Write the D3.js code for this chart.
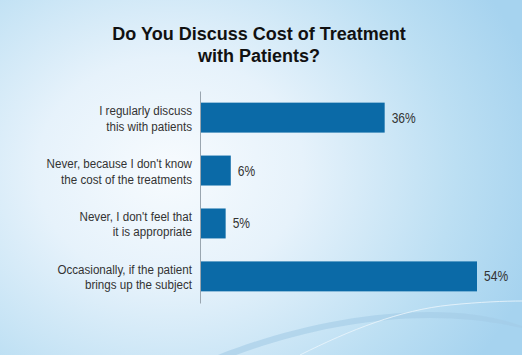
<!DOCTYPE html>
<html>
<head>
<meta charset="utf-8">
<script src="https://cdn.jsdelivr.net/npm/d3@7"></script>
<style>
  html, body { margin: 0; padding: 0; background: #fff; }
  svg { display: block; }
</style>
</head>
<body>
<div id="chart"></div>
<script>
const titleLines = ["Do You Discuss Cost of Treatment", "with Patients?"];
const categories = [
  ["I regularly discuss", "this with patients"],
  ["Never, because I don't know", "the cost of the treatments"],
  ["Never, I don't feel that", "it is appropriate"],
  ["Occasionally, if the patient", "brings up the subject"]
];
const values = [36, 6, 5, 54];
const valueLabels = ["36%", "6%", "5%", "54%"];

const W = 522, H = 355;
const svg = d3.select("#chart").append("svg").attr("width", W).attr("height", H);

const defs = svg.append("defs");
const rg = defs.append("radialGradient").attr("id", "bg")
  .attr("gradientUnits", "userSpaceOnUse")
  .attr("cx", 170).attr("cy", 170).attr("r", 380)
  .attr("gradientTransform", "translate(170,170) scale(1,0.85) translate(-170,-170)");
rg.append("stop").attr("offset", "0").attr("stop-color", "#f7fbfe");
rg.append("stop").attr("offset", "0.35").attr("stop-color", "#e6f2fb");
rg.append("stop").attr("offset", "0.75").attr("stop-color", "#bcdff3");
rg.append("stop").attr("offset", "1").attr("stop-color", "#a6d3ef");

svg.append("rect").attr("width", W).attr("height", H).attr("fill", "url(#bg)");

// decorative swooshes
svg.append("path")
  .attr("d", "M218,355 C280,330 360,312 430,312 C470,312 500,318 522,326 L522,328 C495,322 465,318 430,318 C360,318 290,335 236,355 Z")
  .attr("fill", "#a4cbe6").attr("opacity", 0.6);
svg.append("path")
  .attr("d", "M300,355 C350,330 400,310 450,305 C480,302 505,301 522,301")
  .attr("fill", "none").attr("stroke", "#eaf4fb").attr("stroke-width", 1).attr("opacity", 0.85);

// title
const title = svg.append("text")
  .attr("text-anchor", "middle")
  .attr("font-family", "Liberation Sans, Arial, sans-serif")
  .attr("font-weight", "bold").attr("font-size", 18).attr("fill", "#111");
titleLines.forEach((t, i) => {
  title.append("tspan").attr("x", 259).attr("y", 40 + i * 22).text(t);
});

const x0 = 200;
const x = d3.scaleLinear().domain([0, 54]).range([x0, 477]);
const y = d3.scaleBand().domain(d3.range(categories.length)).range([91, 303]).paddingInner(0.434).paddingOuter(0.22);

// bars
svg.append("g").selectAll("rect").data(values).join("rect")
  .attr("x", x(0))
  .attr("y", (d, i) => y(i))
  .attr("width", d => x(d) - x(0))
  .attr("height", y.bandwidth())
  .attr("fill", "#0b6aa7");

// axis
const axis = d3.axisLeft(y).tickSize(0).tickFormat("");
const ag = svg.append("g").attr("transform", `translate(${x0},0)`).call(axis);
ag.select(".domain").attr("stroke", "#9aa6b0").attr("stroke-width", 1);

// category labels (slightly condensed)
const sx = 0.86;
const lab = svg.append("g")
  .attr("transform", `scale(${sx},1)`)
  .attr("font-family", "Liberation Sans, Arial, sans-serif")
  .attr("font-size", 13.5).attr("fill", "#333").attr("text-anchor", "end");
categories.forEach((lines, i) => {
  const cy = y(i) + y.bandwidth() / 2;
  const t = lab.append("text");
  lines.forEach((l, j) => {
    t.append("tspan").attr("x", 192 / sx).attr("y", cy - 2.5 + j * 15.5).text(l);
  });
});

// value labels
svg.append("g")
  .attr("transform", `scale(${sx},1)`)
  .attr("font-family", "Liberation Sans, Arial, sans-serif")
  .attr("font-size", 14).attr("fill", "#333")
  .selectAll("text").data(values).join("text")
  .attr("x", d => (x(d) + 7) / sx)
  .attr("y", (d, i) => y(i) + y.bandwidth() / 2 + 5)
  .text((d, i) => valueLabels[i]);
</script>
</body>
</html>
